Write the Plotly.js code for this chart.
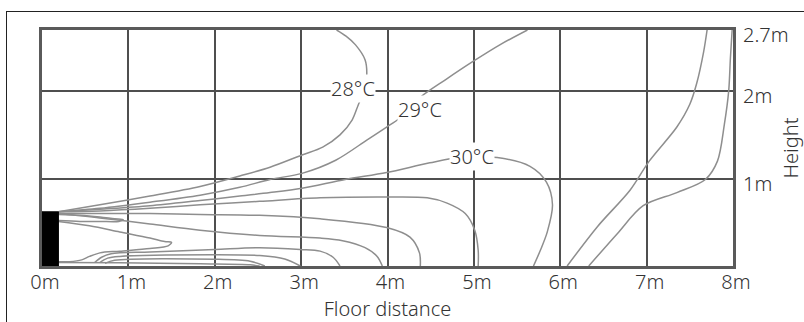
<!DOCTYPE html>
<html>
<head>
<meta charset="utf-8">
<script src="https://cdn.plot.ly/plotly-3.0.1.min.js"></script>
<style>
  html, body { margin: 0; padding: 0; background: #fff; }
  #wrap { position: relative; width: 804px; height: 322px; overflow: hidden; }
  #frame { position: absolute; left: 6px; top: 11px; width: 820px; height: 340px;
           border-left: 1px solid #222; border-top: 1px solid #222; }
  #chart { position: absolute; left: 0; top: 0; width: 804px; height: 322px; }
</style>
</head>
<body>
<div id="wrap"><div id="frame"></div><div id="chart"></div></div>
<script>
// Tick labels
const xTickVals = [0, 1, 2, 3, 4, 5, 6, 7, 8];
const xTickText = ['0m', '1m', '2m', '3m', '4m', '5m', '6m', '7m', '8m'];
const yTickVals = [1, 2, 2.7];
const yTickText = ['1m', '2m', '2.7m'];

// Air-conditioner unit (metres)
const unitX = [0, 0.19];
const unitY = [0, 0.62];

// Isotherm lines (metres)
const line28X = [0.19, 0.67, 1.25, 1.83, 2.29, 2.64, 3.01, 3.25, 3.45, 3.59, 3.66, 3.73, 3.76, 3.74, 3.63, 3.52, 3.41];
const line28Y = [0.62, 0.70, 0.80, 0.91, 1.03, 1.13, 1.27, 1.36, 1.50, 1.67, 1.84, 2.01, 2.19, 2.36, 2.53, 2.63, 2.70];

const line29X = [0.19, 0.67, 1.25, 1.83, 2.29, 2.64, 3.01, 3.40, 3.76, 3.99, 4.14, 4.38, 4.67, 4.99, 5.30, 5.62];
const line29Y = [0.62, 0.66, 0.73, 0.81, 0.90, 0.99, 1.06, 1.21, 1.44, 1.59, 1.69, 1.93, 2.13, 2.34, 2.53, 2.70];

const line30X = [0.19, 0.67, 1.25, 1.83, 2.29, 2.64, 3.01, 3.51, 3.99, 4.49, 4.84, 5.27, 5.65, 5.84, 5.91, 5.85, 5.77, 5.69];
const line30Y = [0.62, 0.65, 0.69, 0.75, 0.80, 0.84, 0.89, 0.99, 1.07, 1.18, 1.24, 1.24, 1.14, 0.96, 0.70, 0.39, 0.18, 0];

const lineAX = [0.19, 0.67, 1.25, 1.83, 2.52, 3.22, 3.99, 4.46, 4.69, 4.90, 5.01, 5.05, 5.05];
const lineAY = [0.62, 0.63, 0.66, 0.70, 0.74, 0.78, 0.79, 0.78, 0.72, 0.60, 0.41, 0.18, 0];

const lineBX = [0.19, 0.67, 1.25, 1.83, 2.52, 3.22, 3.99, 4.26, 4.37, 4.38];
const lineBY = [0.60, 0.60, 0.60, 0.59, 0.58, 0.54, 0.44, 0.33, 0.15, 0];

const lineCX = [0.19, 0.67, 1.25, 1.83, 2.52, 3.22, 3.48, 3.74, 3.88, 3.94];
const lineCY = [0.60, 0.55, 0.48, 0.41, 0.35, 0.32, 0.29, 0.21, 0.11, 0];

const loopSX = [0.19, 0.44, 0.67, 0.84, 0.94, 0.89, 0.67, 0.44, 0.19];
const loopSY = [0.59, 0.58, 0.56, 0.54, 0.53, 0.51, 0.51, 0.51, 0.52];

const loopLX = [0.19, 0.55, 0.90, 1.25, 1.42, 1.50, 1.46, 1.25, 0.90, 0.67, 0.55, 0.46, 0.32, 0.19];
const loopLY = [0.51, 0.46, 0.39, 0.32, 0.28, 0.27, 0.23, 0.20, 0.17, 0.15, 0.11, 0.07, 0.05, 0.05];

const lineDX = [0.61, 0.69, 0.80, 1.25, 2.00, 2.52, 2.99, 3.22, 3.37, 3.45];
const lineDY = [0.04, 0.10, 0.14, 0.16, 0.19, 0.21, 0.19, 0.17, 0.10, 0];

const lineEX = [0.67, 0.76, 0.90, 2.00, 2.52, 2.81, 2.99];
const lineEY = [0.04, 0.09, 0.11, 0.13, 0.12, 0.08, 0];

const lineFX = [0.73, 0.84, 2.00, 2.41, 2.58];
const lineFY = [0.03, 0.065, 0.077, 0.054, 0];

const lineGX = [0.19, 0.90, 1.83, 2.41, 2.52];
const lineGY = [0.04, 0.037, 0.025, 0.014, 0];

const lineR1X = [6.08, 6.43, 6.81, 7.03, 7.35, 7.50, 7.58, 7.66, 7.70];
const lineR1Y = [0, 0.45, 0.87, 1.20, 1.59, 1.85, 2.09, 2.45, 2.70];

const lineR2X = [6.33, 6.66, 6.96, 7.35, 7.68, 7.82, 7.90, 7.95, 7.97, 7.99];
const lineR2Y = [0, 0.37, 0.69, 0.84, 0.99, 1.20, 1.62, 2.00, 2.38, 2.70];

// Labels on isotherms
const labelText = ['28°C', '29°C', '30°C'];
const labelX = [3.60, 4.38, 4.98];
const labelY = [2.03, 1.79, 1.25];

const lines = [
  [line28X, line28Y], [line29X, line29Y], [line30X, line30Y],
  [lineAX, lineAY], [lineBX, lineBY], [lineCX, lineCY],
  [loopSX, loopSY], [loopLX, loopLY],
  [lineDX, lineDY], [lineEX, lineEY], [lineFX, lineFY], [lineGX, lineGY],
  [lineR1X, lineR1Y], [lineR2X, lineR2Y]
];

const traces = lines.map(([x, y]) => ({
  type: 'scatter', mode: 'lines', x: x, y: y,
  line: { color: '#8e8e8e', width: 1.5, shape: 'spline', smoothing: 0.9 },
  hoverinfo: 'skip', showlegend: false
}));

const FONT = 'Noto Sans, Open Sans, sans-serif';
const TXT = '#333333';

const layout = {
  width: 804, height: 322,
  margin: { l: 42, r: 71, t: 30, b: 56, pad: 0 },
  paper_bgcolor: 'rgba(0,0,0,0)',
  plot_bgcolor: '#ffffff',
  showlegend: false,
  font: { family: FONT, size: 20, color: TXT, weight: 300 },
  xaxis: {
    range: [0, 8], tickvals: xTickVals, ticktext: xTickText,
    showgrid: true, gridcolor: '#4f4f4f', gridwidth: 2,
    zeroline: false, showline: true, mirror: true, linecolor: '#5a5a5a', linewidth: 3,
    ticks: '', ticklen: 0, ticklabelstandoff: -4, ticklabelshift: 3,
    tickfont: { family: FONT, size: 20, color: TXT, weight: 300 },
    title: { text: 'Floor distance', standoff: 14, font: { family: FONT, size: 20, color: TXT, weight: 300 } },
    fixedrange: true
  },
  yaxis: {
    range: [0, 2.7], side: 'right', tickvals: yTickVals, ticktext: yTickText,
    showgrid: true, gridcolor: '#4f4f4f', gridwidth: 2,
    zeroline: false, showline: true, mirror: true, linecolor: '#5a5a5a', linewidth: 3,
    ticks: '', ticklen: 0, ticklabelstandoff: 3, ticklabelshift: 5,
    tickfont: { family: FONT, size: 20, color: TXT, weight: 300 },
    title: { text: 'Height', standoff: 16, font: { family: FONT, size: 20, color: TXT, weight: 300 } },
    fixedrange: true
  },
  shapes: [{
    type: 'rect', xref: 'x', yref: 'y',
    x0: unitX[0], x1: unitX[1], y0: unitY[0], y1: unitY[1],
    fillcolor: '#000000', line: { color: '#000000', width: 1 }
  }],
  annotations: labelText.map((t, i) => ({
    x: labelX[i], y: labelY[i], xref: 'x', yref: 'y',
    text: t, showarrow: false, bgcolor: '#ffffff', borderpad: 0,
    font: { family: FONT, size: 20, color: TXT, weight: 300 }
  }))
};

Plotly.newPlot('chart', traces, layout, { displayModeBar: false, staticPlot: true });
</script>
</body>
</html>
